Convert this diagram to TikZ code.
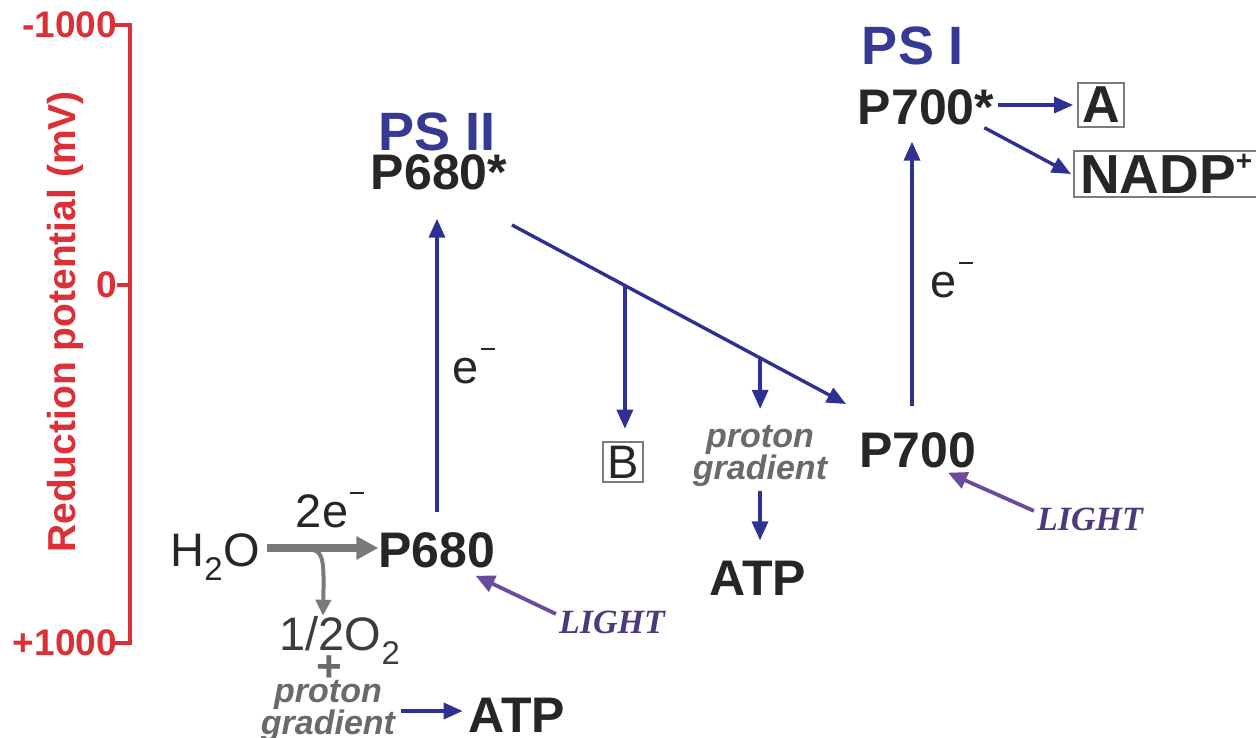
\documentclass[tikz,border=0pt]{standalone}
\usepackage{fontspec}
\setmainfont{Liberation Sans}
\newfontfamily\serifb{Liberation Serif}
\usetikzlibrary{arrows.meta,calc}
\definecolor{eblue}{HTML}{2E3192}
\definecolor{psblue}{HTML}{363A94}
\definecolor{dark}{HTML}{262626}
\definecolor{axred}{HTML}{DC3038}
\definecolor{garrow}{HTML}{7A7A7A}
\definecolor{purp}{HTML}{6A4C9C}
\definecolor{lightc}{HTML}{4D3A7C}
\definecolor{pgray}{HTML}{6A6A6A}
\definecolor{boxgray}{HTML}{7C7C7C}
\newcommand{\elminus}{\kern0.04em\raisebox{0.7em}{\rule{0.3em}{0.035em}}}
\begin{document}
\begin{tikzpicture}[x=1pt,y=-1pt,
  big/.style={font=\fontsize{50}{50}\selectfont\bfseries, text=dark, inner sep=0pt},
  pslabel/.style={font=\fontsize{54}{54}\selectfont\bfseries, text=psblue, inner sep=0pt},
  reg/.style={font=\fontsize{47}{47}\selectfont, text=dark, inner sep=0pt},
  ebarrow/.style={draw=eblue, line width=3.4pt, -{Triangle[length=19pt,width=16pt]}},
  lightarrow/.style={draw=purp, line width=3.8pt, -{Triangle[length=19pt,width=17pt]}},
  garrowthick/.style={draw=garrow, line width=8pt, -{Triangle[length=22pt,width=22pt]}},
  garrowthin/.style={draw=garrow, line width=4pt, -{Triangle[length=16pt,width=15pt]}},
  lighttext/.style={font=\serifb\fontsize{34}{34}\selectfont\bfseries\itshape, text=lightc, inner sep=0pt},
  pgrad/.style={font=\fontsize{34}{25}\selectfont\bfseries\itshape, text=pgray, align=center, inner sep=0pt},
  boxed/.style={draw=boxgray, line width=2.2pt},
  axlabel/.style={font=\fontsize{37}{37}\selectfont\bfseries, text=axred, anchor=east, inner sep=0pt},
  axline/.style={draw=axred, line width=4.5pt}
]
\useasboundingbox[fill=white] (0,0) rectangle (1256,738);

% axis
\coordinate (atop) at (130,25);
\coordinate (amid) at (130,285);
\coordinate (abot) at (130,643);
\node[axlabel] (lm) at (117,25) {-1000};
\node[axlabel] (lz) at (117,285) {0};
\node[axlabel] (lp) at (117,643) {+1000};
\draw[axline, line cap=rect] (lm.east) -- (atop) -- (abot) -- (lp.east);
\draw[axline] (lz.east) -- (amid);
\node[rotate=90, font=\fontsize{39}{39}\selectfont\bfseries, text=axred, inner sep=0pt] (axt) at (65,322) {Reduction potential (mV)};

% PS II
\node[pslabel, anchor=base] (psii) at (437,151) {PS II};
\node[big, anchor=base] (p680s) at (439,190) {P680*};
\node[big, anchor=base] (p680) at (437,567) {P680};
\node[reg, anchor=base] (h2o) at (215,566) {H\textsubscript{2}O};
\node[reg, anchor=base] (e2) at (330,527) {2e\elminus};
\node[reg, anchor=base, text=dark!90] (o2) at (340,650) {1/2O\textsubscript{2}};
\node[font=\fontsize{44}{44}\selectfont\bfseries, text=pgray, inner sep=0pt] (plus) at (329,669) {+};
\node[pgrad] (pg2) at (328,711) {proton\\gradient};
\node[big, anchor=base] (atp2) at (517,732) {ATP};
\node[reg, anchor=base] (e1) at (474,383) {e\elminus};
\node[lighttext, anchor=base] (light1) at (612,633) {LIGHT};

% middle
\coordinate (d1) at (512,225);
\coordinate (d2) at (846,404);
\coordinate (b1) at ($(d1)!0.338!(d2)$);
\coordinate (b2) at ($(d1)!0.743!(d2)$);
\node[boxed, font=\fontsize{47}{47}\selectfont, text=dark, inner sep=4pt] (bbox) at (623,462) {B};
\node[pgrad] (pg1) at (760,456) {proton\\gradient};
\node[big, anchor=base] (atp1) at (758,595) {ATP};

% PS I
\node[pslabel, anchor=base] (psi) at (913,65) {PS I};
\node[big, anchor=base] (p700s) at (926,125) {P700*};
\node[big, anchor=base] (p700) at (918,467) {P700};
\node[reg, anchor=base] (e3) at (952,297) {e\elminus};
\node[lighttext, anchor=base] (light2) at (1090,530) {LIGHT};
\node[boxed, font=\fontsize{52}{52}\selectfont\bfseries, text=dark, inner sep=4pt] (abox) at (1101,105) {A};
\node[boxed, font=\fontsize{55}{55}\selectfont\bfseries, text=dark, inner ysep=3pt, inner xsep=6pt, anchor=west] (nadp) at (1073,174) {NADP\raisebox{0.42em}{\fontsize{28}{28}\selectfont +}};

% connectors
\draw[garrowthick] (h2o.east |- 0,548) ++(7,0) coordinate (g0) -- (g0 -| p680.west);
\coordinate (gb) at (313,550);
\draw[garrowthin] (gb) .. controls (324,552) and (324,565) .. (o2.north -| 323,0);
\draw[ebarrow] (pg2.east) ++(6,0) coordinate (q0) -- ($(atp2.west |- q0)+(-6,0)$);
\draw[ebarrow, shorten <=20pt, shorten >=28pt] (p680.north) -- (p680.north |- p680s.south);
\draw[lightarrow] ($(light1.west)+(-3,-8)$) -- ($(p680.south east)+(-20,8)$);
\draw[ebarrow] (d1) -- (d2);
\draw[ebarrow, shorten >=12pt] (b1) -- (b1 |- bbox.north);
\draw[ebarrow, shorten >=16pt] (b2) -- (b2 |- pg1.north);
\draw[ebarrow, shorten <=4pt, shorten >=20pt] (pg1.south) -- (pg1.south |- atp1.north);
\draw[ebarrow, shorten <=26pt, shorten >=16pt] ($(p700.north)+(-6,0)$) -- ($(p700s.south)+(-14,0)$);
\draw[lightarrow] ($(light2.west)+(-3,-8)$) -- ($(p700.south)+(30,5)$);
\draw[ebarrow, shorten <=4pt, shorten >=4pt] (p700s.east |- abox.west) -- (abox.west);
\draw[ebarrow] ($(p700s.south east)+(-10,2)$) -- ($(nadp.west)+(-2,0)$);
\end{tikzpicture}
\end{document}
